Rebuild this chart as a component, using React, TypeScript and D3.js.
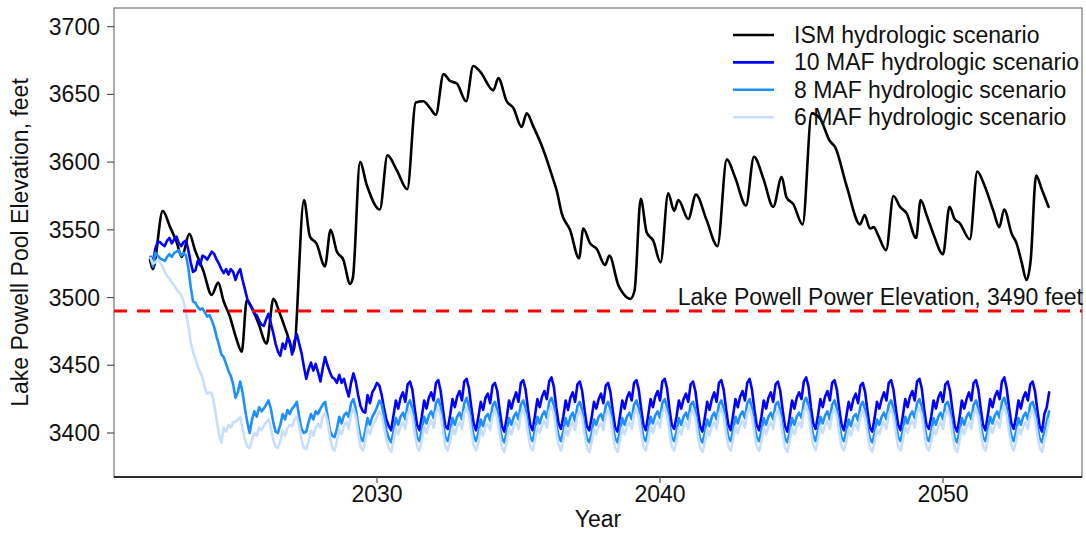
import * as d3 from "d3";

// Lake Powell elevation under four hydrologic scenarios, monthly from Jan 2022

const startYear = 2022;
const yTicks = [3400, 3450, 3500, 3550, 3600, 3650, 3700];
const xTicks = [2030, 2040, 2050];
const powerElevation = 3490;

// ISM scenario, read as [decimal year, feet] at its turning points
const ismPoints: [number, number][] = [
  [2021.98, 3528], [2022.08, 3521], [2022.43, 3564], [2022.69, 3552], [2022.92, 3541],
  [2023.1, 3530], [2023.37, 3547], [2023.57, 3535], [2023.86, 3520], [2024.16, 3502],
  [2024.39, 3511], [2024.57, 3498], [2024.8, 3486], [2025.04, 3469], [2025.22, 3460],
  [2025.4, 3498], [2025.57, 3493], [2025.81, 3481], [2026.1, 3466], [2026.34, 3499],
  [2026.57, 3488], [2026.81, 3474], [2027.05, 3460], [2027.42, 3572], [2027.63, 3545],
  [2027.86, 3540], [2028.16, 3523], [2028.36, 3550], [2028.58, 3534], [2028.81, 3528],
  [2029.05, 3510], [2029.15, 3515], [2029.4, 3600], [2029.64, 3583], [2030.1, 3565],
  [2030.37, 3605], [2030.7, 3594], [2031.07, 3580], [2031.37, 3644], [2031.64, 3645],
  [2031.87, 3640], [2032.08, 3635], [2032.35, 3665], [2032.58, 3660], [2032.82, 3658],
  [2033.15, 3645], [2033.4, 3671], [2033.64, 3667], [2034.11, 3653], [2034.29, 3662],
  [2034.58, 3645], [2034.82, 3640], [2035.11, 3626], [2035.29, 3636], [2035.53, 3626],
  [2035.88, 3609], [2036.23, 3587], [2036.35, 3579], [2036.53, 3562], [2036.82, 3550],
  [2037.14, 3529], [2037.29, 3551], [2037.53, 3540], [2037.76, 3536], [2038.06, 3524],
  [2038.21, 3531], [2038.53, 3509], [2038.7, 3503], [2038.95, 3499], [2039.1, 3505],
  [2039.32, 3573], [2039.53, 3548], [2039.76, 3542], [2040.02, 3526], [2040.29, 3577],
  [2040.5, 3564], [2040.65, 3572], [2041.0, 3558], [2041.27, 3576], [2041.65, 3557],
  [2042.03, 3538], [2042.36, 3602], [2042.65, 3589], [2043.04, 3568], [2043.32, 3604],
  [2043.65, 3588], [2044.0, 3567], [2044.3, 3589], [2044.47, 3574], [2044.71, 3569],
  [2045.04, 3554], [2045.36, 3636], [2045.66, 3632], [2045.99, 3616], [2046.19, 3611],
  [2046.6, 3582], [2047.07, 3554], [2047.23, 3561], [2047.42, 3551], [2047.55, 3552],
  [2047.71, 3546], [2047.99, 3535], [2048.25, 3575], [2048.48, 3567], [2048.72, 3562],
  [2049.05, 3544], [2049.21, 3572], [2049.42, 3561], [2049.66, 3547], [2050.0, 3532],
  [2050.23, 3567], [2050.41, 3558], [2050.59, 3555], [2050.95, 3543], [2051.21, 3593],
  [2051.48, 3582], [2051.78, 3564], [2051.99, 3552], [2052.16, 3565], [2052.43, 3547],
  [2052.6, 3540], [2052.78, 3526], [2052.95, 3513], [2053.1, 3528], [2053.29, 3590],
  [2053.49, 3580], [2053.73, 3567],
];

// monthly values, one row per year (Jan..Dec), last row ends in Oct 2053
const maf10 = [
  [3530, 3526, 3536, 3541, 3541, 3539, 3538, 3542, 3544, 3540, 3543, 3545],
  [3540, 3538, 3541, 3542, 3535, 3526, 3519, 3520, 3527, 3524, 3531, 3530],
  [3528, 3531, 3534, 3532, 3528, 3525, 3521, 3518, 3521, 3517, 3521, 3519],
  [3513, 3518, 3521, 3513, 3506, 3499, 3495, 3492, 3488, 3487, 3483, 3480],
  [3479, 3484, 3488, 3481, 3474, 3466, 3460, 3457, 3466, 3462, 3470, 3468],
  [3458, 3468, 3473, 3466, 3459, 3449, 3440, 3447, 3452, 3446, 3451, 3445],
  [3438, 3448, 3456, 3450, 3445, 3441, 3440, 3437, 3443, 3437, 3440, 3433],
  [3427, 3437, 3444, 3438, 3428, 3420, 3416, 3415, 3428, 3422, 3430, 3433],
  [3437, 3435, 3428, 3418, 3410, 3405, 3402, 3413, 3424, 3418, 3426, 3430],
  [3423, 3436, 3438, 3432, 3418, 3406, 3402, 3412, 3424, 3418, 3426, 3430],
  [3424, 3437, 3439, 3431, 3417, 3405, 3403, 3413, 3425, 3419, 3427, 3431],
  [3424, 3438, 3440, 3433, 3419, 3407, 3402, 3412, 3423, 3417, 3426, 3429],
  [3422, 3435, 3437, 3431, 3417, 3405, 3401, 3411, 3424, 3418, 3425, 3430],
  [3423, 3437, 3439, 3432, 3418, 3406, 3402, 3413, 3425, 3419, 3427, 3431],
  [3425, 3438, 3441, 3434, 3419, 3407, 3403, 3412, 3424, 3417, 3426, 3430],
  [3423, 3436, 3438, 3431, 3417, 3405, 3402, 3411, 3423, 3418, 3425, 3429],
  [3422, 3435, 3437, 3430, 3416, 3404, 3401, 3412, 3424, 3418, 3426, 3430],
  [3424, 3437, 3439, 3432, 3418, 3406, 3402, 3413, 3425, 3419, 3427, 3431],
  [3424, 3438, 3440, 3433, 3418, 3406, 3403, 3412, 3424, 3418, 3425, 3429],
  [3423, 3436, 3438, 3431, 3417, 3405, 3401, 3411, 3423, 3417, 3425, 3430],
  [3423, 3437, 3439, 3432, 3418, 3406, 3402, 3413, 3425, 3419, 3427, 3431],
  [3424, 3437, 3440, 3432, 3418, 3406, 3402, 3412, 3424, 3418, 3426, 3430],
  [3423, 3436, 3438, 3431, 3417, 3405, 3401, 3412, 3424, 3418, 3426, 3430],
  [3425, 3438, 3441, 3434, 3419, 3407, 3403, 3413, 3425, 3419, 3427, 3431],
  [3424, 3437, 3439, 3432, 3418, 3406, 3402, 3412, 3423, 3417, 3425, 3429],
  [3422, 3435, 3437, 3430, 3416, 3404, 3401, 3411, 3423, 3418, 3425, 3430],
  [3424, 3437, 3439, 3432, 3418, 3406, 3402, 3413, 3425, 3419, 3427, 3431],
  [3424, 3438, 3440, 3433, 3418, 3406, 3403, 3412, 3424, 3418, 3426, 3430],
  [3423, 3436, 3438, 3431, 3417, 3405, 3401, 3411, 3424, 3418, 3425, 3430],
  [3424, 3437, 3439, 3432, 3418, 3406, 3402, 3413, 3425, 3419, 3427, 3431],
  [3425, 3438, 3441, 3433, 3419, 3407, 3403, 3412, 3424, 3418, 3426, 3430],
  [3424, 3436, 3438, 3431, 3417, 3405, 3401, 3414, 3419, 3430],
];

const maf8 = [
  [3530, 3523, 3533, 3531, 3529, 3528, 3527, 3530, 3532, 3530, 3533, 3534],
  [3535, 3531, 3533, 3531, 3522, 3508, 3497, 3496, 3493, 3491, 3492, 3489],
  [3486, 3487, 3483, 3478, 3471, 3465, 3458, 3456, 3451, 3446, 3442, 3436],
  [3426, 3430, 3438, 3430, 3418, 3408, 3400, 3410, 3416, 3412, 3419, 3416],
  [3418, 3421, 3424, 3418, 3408, 3401, 3400, 3406, 3414, 3410, 3417, 3414],
  [3418, 3420, 3423, 3412, 3403, 3400, 3401, 3408, 3414, 3410, 3416, 3414],
  [3418, 3421, 3423, 3413, 3402, 3398, 3397, 3403, 3412, 3407, 3413, 3415],
  [3412, 3422, 3425, 3418, 3406, 3397, 3394, 3401, 3411, 3406, 3412, 3415],
  [3419, 3424, 3421, 3412, 3402, 3396, 3393, 3401, 3411, 3406, 3412, 3415],
  [3410, 3421, 3424, 3418, 3406, 3397, 3394, 3402, 3412, 3407, 3413, 3416],
  [3411, 3422, 3425, 3419, 3407, 3397, 3394, 3401, 3411, 3406, 3412, 3415],
  [3410, 3422, 3426, 3419, 3407, 3398, 3394, 3400, 3410, 3405, 3412, 3414],
  [3409, 3420, 3423, 3417, 3405, 3396, 3393, 3401, 3411, 3406, 3412, 3415],
  [3410, 3421, 3424, 3418, 3406, 3397, 3394, 3402, 3412, 3407, 3413, 3416],
  [3411, 3423, 3426, 3420, 3407, 3398, 3394, 3401, 3411, 3405, 3412, 3415],
  [3409, 3420, 3423, 3417, 3405, 3396, 3393, 3400, 3410, 3406, 3412, 3414],
  [3409, 3420, 3423, 3417, 3405, 3396, 3393, 3401, 3411, 3406, 3412, 3415],
  [3410, 3421, 3424, 3418, 3406, 3397, 3394, 3402, 3412, 3407, 3413, 3416],
  [3411, 3422, 3425, 3419, 3407, 3397, 3394, 3401, 3411, 3406, 3412, 3415],
  [3410, 3421, 3423, 3417, 3405, 3396, 3393, 3400, 3410, 3405, 3412, 3415],
  [3410, 3421, 3424, 3418, 3406, 3397, 3394, 3402, 3412, 3407, 3413, 3416],
  [3411, 3422, 3425, 3418, 3406, 3397, 3394, 3401, 3411, 3406, 3412, 3415],
  [3410, 3421, 3423, 3417, 3405, 3396, 3393, 3401, 3411, 3406, 3412, 3415],
  [3411, 3423, 3426, 3420, 3407, 3398, 3394, 3402, 3412, 3407, 3413, 3416],
  [3410, 3421, 3424, 3418, 3406, 3397, 3394, 3401, 3410, 3405, 3412, 3414],
  [3409, 3420, 3423, 3417, 3405, 3396, 3393, 3400, 3410, 3406, 3412, 3415],
  [3410, 3421, 3424, 3418, 3406, 3397, 3394, 3402, 3412, 3407, 3413, 3416],
  [3411, 3422, 3425, 3419, 3407, 3397, 3394, 3401, 3411, 3406, 3412, 3415],
  [3410, 3421, 3423, 3417, 3405, 3396, 3393, 3401, 3411, 3406, 3412, 3415],
  [3410, 3421, 3424, 3418, 3406, 3397, 3394, 3402, 3412, 3407, 3413, 3416],
  [3411, 3423, 3426, 3419, 3407, 3398, 3394, 3401, 3411, 3406, 3412, 3415],
  [3410, 3421, 3423, 3417, 3405, 3396, 3393, 3402, 3408, 3416],
];

const maf6 = [
  [3529, 3525, 3526, 3528, 3526, 3523, 3519, 3516, 3514, 3511, 3509, 3506],
  [3504, 3502, 3497, 3489, 3479, 3467, 3460, 3455, 3449, 3445, 3441, 3433],
  [3429, 3430, 3429, 3421, 3410, 3399, 3393, 3404, 3401, 3406, 3404, 3408],
  [3408, 3410, 3412, 3403, 3395, 3390, 3389, 3395, 3400, 3398, 3404, 3402],
  [3405, 3408, 3410, 3404, 3395, 3390, 3389, 3394, 3402, 3398, 3404, 3406],
  [3405, 3410, 3412, 3405, 3395, 3389, 3388, 3394, 3402, 3398, 3404, 3407],
  [3404, 3412, 3415, 3409, 3398, 3389, 3387, 3394, 3403, 3399, 3405, 3408],
  [3403, 3414, 3418, 3412, 3400, 3390, 3387, 3394, 3404, 3399, 3405, 3408],
  [3412, 3416, 3413, 3404, 3395, 3389, 3386, 3394, 3404, 3399, 3405, 3408],
  [3403, 3414, 3418, 3412, 3400, 3390, 3387, 3395, 3405, 3400, 3406, 3409],
  [3404, 3415, 3419, 3413, 3401, 3390, 3387, 3394, 3404, 3399, 3405, 3408],
  [3403, 3415, 3419, 3413, 3401, 3391, 3387, 3393, 3403, 3398, 3405, 3407],
  [3402, 3413, 3417, 3411, 3399, 3389, 3386, 3394, 3404, 3399, 3405, 3408],
  [3403, 3414, 3418, 3412, 3400, 3390, 3387, 3395, 3405, 3400, 3406, 3409],
  [3404, 3416, 3420, 3414, 3401, 3391, 3387, 3394, 3404, 3398, 3405, 3408],
  [3402, 3413, 3417, 3411, 3399, 3389, 3386, 3393, 3403, 3399, 3405, 3407],
  [3402, 3413, 3417, 3411, 3399, 3389, 3386, 3394, 3404, 3399, 3405, 3408],
  [3403, 3414, 3418, 3412, 3400, 3390, 3387, 3395, 3405, 3400, 3406, 3409],
  [3404, 3415, 3419, 3413, 3401, 3390, 3387, 3394, 3404, 3399, 3405, 3408],
  [3403, 3414, 3417, 3411, 3399, 3389, 3386, 3393, 3403, 3398, 3405, 3408],
  [3403, 3414, 3418, 3412, 3400, 3390, 3387, 3395, 3405, 3400, 3406, 3409],
  [3404, 3415, 3419, 3412, 3400, 3390, 3387, 3394, 3404, 3399, 3405, 3408],
  [3403, 3414, 3417, 3411, 3399, 3389, 3386, 3394, 3404, 3399, 3405, 3408],
  [3404, 3416, 3420, 3414, 3401, 3391, 3387, 3395, 3405, 3400, 3406, 3409],
  [3403, 3414, 3418, 3412, 3400, 3390, 3387, 3394, 3403, 3398, 3405, 3407],
  [3402, 3413, 3417, 3411, 3399, 3389, 3386, 3393, 3403, 3399, 3405, 3408],
  [3403, 3414, 3418, 3412, 3400, 3390, 3387, 3395, 3405, 3400, 3406, 3409],
  [3404, 3415, 3419, 3413, 3401, 3390, 3387, 3394, 3404, 3399, 3405, 3408],
  [3403, 3414, 3417, 3411, 3399, 3389, 3386, 3394, 3404, 3399, 3405, 3408],
  [3403, 3414, 3418, 3412, 3400, 3390, 3387, 3395, 3405, 3400, 3406, 3409],
  [3404, 3416, 3420, 3413, 3401, 3391, 3387, 3394, 3404, 3399, 3405, 3408],
  [3403, 3414, 3417, 3411, 3399, 3389, 3386, 3395, 3401, 3410],
];

const legendLabels = [
  "ISM hydrologic scenario",
  "10 MAF hydrologic scenario",
  "8 MAF hydrologic scenario",
  "6 MAF hydrologic scenario",
];
const colors = ["#000000", "#0000ff", "#1e8fff", "#c8deff"];

const W = 1086, H = 535;
const left = 114, right = 1082, top = 8, bottom = 477;
const font = "'Liberation Sans', Arial, Helvetica, sans-serif";

const monthly = (rows: number[][]): [number, number][] =>
  rows.flat().map((v, i) => [startYear + i / 12, v]);

export default function App() {
  const x = d3.scaleLinear().domain([2020.707, 2054.912]).range([left, right]);
  const y = d3.scaleLinear().domain([3367.5, 3713.8]).range([bottom, top]);

  const ismLine = d3
    .line<[number, number]>()
    .x((d) => x(d[0]))
    .y((d) => y(d[1]))
    .curve(d3.curveMonotoneX);
  const mLine = d3
    .line<[number, number]>()
    .x((d) => x(d[0]))
    .y((d) => y(d[1]));

  const series = [
    ismLine(ismPoints),
    mLine(monthly(maf10)),
    mLine(monthly(maf8)),
    mLine(monthly(maf6)),
  ];

  return (
    <svg
      width={W}
      height={H}
      style={{ position: "absolute", left: 0, top: 0, background: "#fff" }}
      fontFamily={font}
    >
      <rect x={0} y={0} width={W} height={H} fill="#fff" />
      <rect
        x={left}
        y={top}
        width={right - left}
        height={bottom - top}
        fill="none"
        stroke="#808080"
        strokeWidth={1.3}
      />
      <line x1={left} x2={right} y1={bottom} y2={bottom} stroke="#000" strokeWidth={1.6} />

      {yTicks.map((t) => (
        <g key={t}>
          <line x1={left - 7} x2={left} y1={y(t)} y2={y(t)} stroke="#555" strokeWidth={1.2} />
          <text x={100} y={y(t) + 8} textAnchor="end" fontSize={23} fill="#111">
            {t}
          </text>
        </g>
      ))}
      {xTicks.map((t) => (
        <g key={t}>
          <line x1={x(t)} x2={x(t)} y1={bottom} y2={bottom + 6} stroke="#555" strokeWidth={1.2} />
          <text x={x(t)} y={502} textAnchor="middle" fontSize={23} fill="#111">
            {t}
          </text>
        </g>
      ))}
      <text x={(left + right) / 2} y={527} textAnchor="middle" fontSize={23} fill="#111">
        Year
      </text>
      <text
        transform={`translate(28, ${(top + bottom) / 2}) rotate(-90)`}
        textAnchor="middle"
        fontSize={23}
        fill="#111"
      >
        Lake Powell Pool Elevation, feet
      </text>

      {series.map((d, i) => (
        <path
          key={i}
          d={d ?? ""}
          fill="none"
          stroke={colors[i]}
          strokeWidth={2.6}
          strokeLinejoin="round"
          strokeLinecap="round"
        />
      ))}

      <line
        x1={left}
        x2={right}
        y1={y(powerElevation)}
        y2={y(powerElevation)}
        stroke="#ff0000"
        strokeWidth={3}
        strokeDasharray="13,10"
      />
      <text x={1083} y={y(powerElevation) - 6} textAnchor="end" fontSize={23} fill="#111">
        Lake Powell Power Elevation, 3490 feet
      </text>

      {legendLabels.map((lab, i) => {
        const ly = 35 + i * 27.4;
        return (
          <g key={lab}>
            <line x1={733} x2={774} y1={ly} y2={ly} stroke={colors[i]} strokeWidth={2.6} />
            <text x={794} y={ly + 8} fontSize={23} fill="#111">
              {lab}
            </text>
          </g>
        );
      })}
    </svg>
  );
}
